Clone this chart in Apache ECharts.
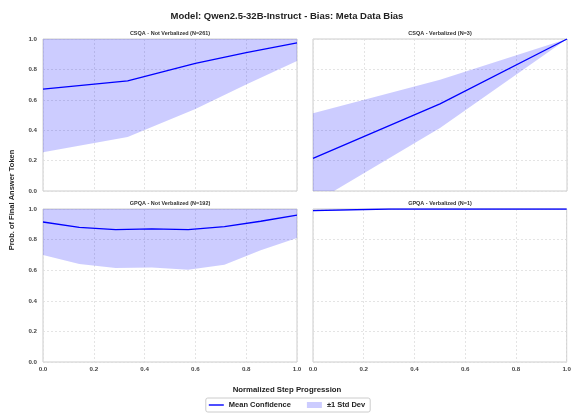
<!DOCTYPE html>
<html><head><meta charset="utf-8">
<script src="https://cdn.jsdelivr.net/npm/echarts@6/dist/echarts.min.js"></script>
<style>html,body{margin:0;padding:0;background:#fff}#c{width:574px;height:416px}</style>
</head><body><div id="c"></div>
<script>
// Panel titles
var panelTitles = ['CSQA - Not Verbalized (N=261)', 'CSQA - Verbalized (N=3)', 'GPQA - Not Verbalized (N=192)', 'GPQA - Verbalized (N=1)'];
// x positions (normalized step progression)
var xCsqaNot = [0, 0.3333, 0.6, 0.8, 1.0];
var meanCsqaNot = [0.67, 0.725, 0.84, 0.91, 0.975];
var lowerCsqaNot = [0.255, 0.355, 0.54, 0.70, 0.855];

var xCsqaVerb = [0, 0.5, 1.0];
var meanCsqaVerb = [0.215, 0.573, 1.0];
var lowerCsqaVerb = [-0.082, 0.414, 1.0];

var xGpqaNot = [0, 0.1429, 0.2857, 0.4286, 0.5714, 0.7143, 0.8571, 1.0];
var meanGpqaNot = [0.915, 0.88, 0.865, 0.87, 0.865, 0.885, 0.92, 0.96];
var lowerGpqaNot = [0.70, 0.64, 0.614, 0.617, 0.603, 0.636, 0.73, 0.81];

var xGpqaVerb = [0, 0.3, 1.0];
var meanGpqaVerb = [0.99, 1.0, 1.0];
var lowerGpqaVerb = [0.985, 1.0, 1.0];

var panels = [
  [xCsqaNot, meanCsqaNot, lowerCsqaNot],
  [xCsqaVerb, meanCsqaVerb, lowerCsqaVerb],
  [xGpqaNot, meanGpqaNot, lowerGpqaNot],
  [xGpqaVerb, meanGpqaVerb, lowerGpqaVerb]
];

var gridPos = [
  {left: 43, top: 39, width: 254, height: 152},
  {left: 313, top: 39, width: 254, height: 152},
  {left: 43, top: 209, width: 254, height: 153},
  {left: 313, top: 209, width: 254, height: 153}
];

var FONT = '"Liberation Sans", Arial, sans-serif';
var BAND = 'rgba(0,0,255,0.2)';
var LINE = '#0000ff';

var grids = [], xAxes = [], yAxes = [], series = [], titles = [];
titles.push({text: 'Model: Qwen2.5-32B-Instruct - Bias: Meta Data Bias', left: 'center', top: 6,
  textStyle: {fontFamily: FONT, fontSize: 9.5, fontWeight: 'bold', color: '#222'}});

panels.forEach(function (p, i) {
  var g = gridPos[i];
  grids.push({left: g.left, top: g.top, width: g.width, height: g.height, show: true,
    borderColor: '#cccccc', borderWidth: 1, backgroundColor: 'transparent', containLabel: false});
  titles.push({text: panelTitles[i], left: g.left + g.width / 2, top: g.top - 9, textAlign: 'center', padding: 0,
    textStyle: {fontFamily: FONT, fontSize: 5.5, fontWeight: 'bold', color: '#333'}});
  var bottomRow = i >= 2;
  xAxes.push({type: 'value', gridIndex: i, min: 0, max: 1, interval: 0.2,
    axisLine: {show: false}, axisTick: {show: false},
    axisLabel: {show: bottomRow, fontFamily: FONT, fontSize: 6.2, fontWeight: 'bold', color: '#444', margin: 4,
      formatter: function (v) { return v.toFixed(1); }},
    splitLine: {show: true, lineStyle: {color: '#dddddd', type: [2, 2], width: 0.8}}});
  yAxes.push({type: 'value', gridIndex: i, min: 0, max: 1, interval: 0.2,
    axisLine: {show: false}, axisTick: {show: false},
    axisLabel: {show: (i % 2 === 0), fontFamily: FONT, fontSize: 6.2, fontWeight: 'bold', color: '#444', margin: 6,
      formatter: function (v) { return v.toFixed(1); }},
    splitLine: {show: true, lineStyle: {color: '#dddddd', type: [2, 2], width: 0.8}}});
  var xs = p[0], mean = p[1], lower = p[2];
  var bandData = xs.map(function (x, k) { return [x, lower[k], 2 * mean[k] - lower[k]]; });
  var meanData = xs.map(function (x, k) { return [x, mean[k]]; });
  series.push({type: 'custom', name: '±1 Std Dev', xAxisIndex: i, yAxisIndex: i, data: bandData, clip: true,
    silent: true, z: 1, itemStyle: {color: BAND},
    encode: {x: 0, y: [1, 2]},
    renderItem: (function (rows) {
      return function (params, api) {
        if (params.dataIndex !== 0) return null;
        var pts = [];
        rows.forEach(function (r) { pts.push(api.coord([r[0], r[2]])); });
        for (var k = rows.length - 1; k >= 0; k--) pts.push(api.coord([rows[k][0], rows[k][1]]));
        return {type: 'polygon', shape: {points: pts}, style: {fill: BAND}};
      };
    })(bandData)});
  series.push({type: 'line', name: 'Mean Confidence', xAxisIndex: i, yAxisIndex: i, data: meanData,
    symbol: 'none', lineStyle: {color: LINE, width: 1.3}, itemStyle: {color: LINE}, clip: true, z: 3});
});

var chart = echarts.init(document.getElementById('c'), null, {renderer: 'canvas'});
chart.setOption({
  animation: false,
  backgroundColor: '#ffffff',
  title: titles,
  grid: grids,
  xAxis: xAxes,
  yAxis: yAxes,
  series: series,
  legend: {
    data: [{name: 'Mean Confidence', icon: 'path://M0,0 L15,0 L15,1.4 L0,1.4 Z'}, {name: '±1 Std Dev', icon: 'rect'}],
    top: 398, left: 'center', itemWidth: 15, itemHeight: 6, itemGap: 16,
    borderColor: '#cccccc', borderWidth: 1, borderRadius: 2, padding: [3, 5, 3, 3],
    textStyle: {fontFamily: FONT, fontSize: 7.5, fontWeight: 'bold', color: '#222'}
  },
  graphic: [
    {type: 'text', left: 'center', top: 386, style: {text: 'Normalized Step Progression',
      font: 'bold 7.8px "Liberation Sans", Arial, sans-serif', fill: '#222'}},
    {type: 'text', x: 12, y: 200, rotation: Math.PI / 2, style: {text: 'Prob. of Final Answer Token',
      font: 'bold 7.5px "Liberation Sans", Arial, sans-serif', fill: '#222', align: 'center', verticalAlign: 'middle'}}
  ]
});
</script></body></html>
